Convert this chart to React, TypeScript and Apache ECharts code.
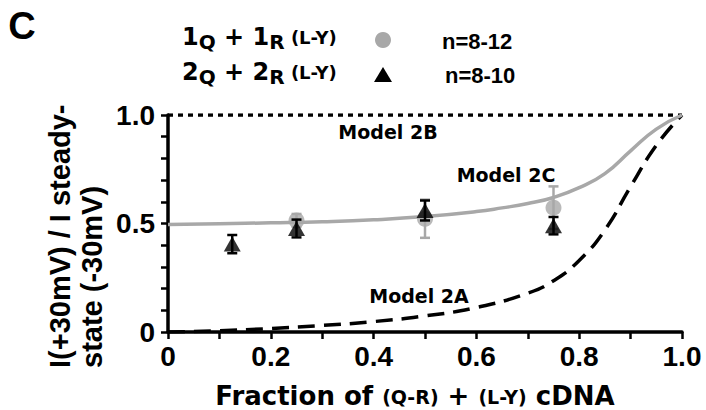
import React, { useEffect, useRef } from 'react';
import * as echarts from 'echarts';

const triX = [0.125, 0.25, 0.5, 0.75];
const triY = [0.405, 0.477, 0.56, 0.49];
const triErr = [0.042, 0.041, 0.046, 0.04];

const circX = [0.25, 0.5, 0.75];
const circY = [0.514, 0.522, 0.573];
const circErr = [0.03, 0.088, 0.098];

const model2AX = [0, 0.1, 0.2, 0.3, 0.4, 0.5, 0.6, 0.7, 0.75, 0.8, 0.85, 0.9, 0.95, 1.0];
const model2A = [0, 0.006, 0.016, 0.03, 0.048, 0.074, 0.113, 0.179, 0.236, 0.33, 0.47, 0.67, 0.86, 1.0];
const model2CX = [0, 0.1, 0.2, 0.3, 0.4, 0.5, 0.6, 0.65, 0.7, 0.75, 0.8, 0.85, 0.9, 0.95, 1.0];
const model2C = [0.495, 0.499, 0.503, 0.508, 0.517, 0.532, 0.555, 0.572, 0.592, 0.62, 0.665, 0.73, 0.835, 0.935, 1.0];
const model2BX = [0, 1];
const model2B = [1, 1];

const xTickLabels = ['0', '0.2', '0.4', '0.6', '0.8', '1.0'];
const yTickLabels = ['0', '0.5', '1.0'];

const GRAY = '#a8a8a8';
const F_TEXT = "'DejaVu Sans', sans-serif";
const F_TICK = "'Liberation Sans', Arial, sans-serif";

function errRender(color: string) {
  return (params: any, api: any) => {
    const x = api.value(0);
    const y = api.value(1);
    const e = api.value(2);
    const top = api.coord([x, y + e]);
    const bot = api.coord([x, y - e]);
    const hw = 5;
    const st = { stroke: color, lineWidth: 2.5 };
    return {
      type: 'group',
      children: [
        { type: 'line', shape: { x1: top[0], y1: top[1], x2: bot[0], y2: bot[1] }, style: st },
        { type: 'line', shape: { x1: top[0] - hw, y1: top[1], x2: top[0] + hw, y2: top[1] }, style: st },
        { type: 'line', shape: { x1: bot[0] - hw, y1: bot[1], x2: bot[0] + hw, y2: bot[1] }, style: st },
      ],
    };
  };
}

export default function App() {
  const ref = useRef<HTMLDivElement>(null);
  useEffect(() => {
    if (!ref.current) return;
    const chart = echarts.init(ref.current, null, { renderer: 'svg' });
    const richLegend = {
      m: { fontFamily: F_TEXT, fontWeight: 'bold', fontSize: 24, lineHeight: 30, fill: '#000' },
      s: { fontFamily: F_TEXT, fontWeight: 'bold', fontSize: 20, lineHeight: 30, padding: [9, 0, 0, 0], fill: '#000' },
      p: { fontFamily: F_TEXT, fontWeight: 'bold', fontSize: 18, lineHeight: 30, padding: [1, 0, 0, 0], fill: '#000' },
    };
    const richTitle = {
      m: { fontFamily: F_TEXT, fontWeight: 'bold', fontSize: 26, lineHeight: 32, fill: '#000' },
      p: { fontFamily: F_TEXT, fontWeight: 'bold', fontSize: 19, lineHeight: 32, padding: [2, 0, 0, 0], fill: '#000' },
    };
    const option: any = {
      animation: false,
      backgroundColor: '#fff',
      grid: { left: 168, right: 24, top: 115, bottom: 78 },
      xAxis: {
        type: 'value',
        min: 0,
        max: 1,
        interval: 0.1,
        axisLine: { lineStyle: { color: '#000', width: 3.5 } },
        axisTick: { length: 7, lineStyle: { color: '#000', width: 2.5 } },
        splitLine: { show: false },
        axisLabel: {
          margin: 10,
          fontFamily: F_TICK,
          fontWeight: 'bold',
          fontSize: 28,
          color: '#000',
          formatter: (v: number) => {
            const r = Math.round(v * 10);
            return r % 2 === 0 ? xTickLabels[r / 2] : '';
          },
        },
      },
      yAxis: {
        type: 'value',
        min: 0,
        max: 1,
        interval: 0.1,
        axisLine: { show: true, lineStyle: { color: '#000', width: 3.5 } },
        axisTick: { show: true, length: 7, lineStyle: { color: '#000', width: 2.5 } },
        splitLine: { show: false },
        axisLabel: {
          margin: 13,
          fontFamily: F_TICK,
          fontWeight: 'bold',
          fontSize: 28,
          color: '#000',
          formatter: (v: number) => {
            const r = Math.round(v * 10);
            return r % 5 === 0 ? yTickLabels[r / 5] : '';
          },
        },
      },
      series: [
        {
          type: 'line',
          data: model2BX.map((x, i) => [x, model2B[i]]),
          symbol: 'none',
          lineStyle: { color: '#000', width: 3.5, type: [5, 5] },
          z: 2,
        },
        {
          type: 'line',
          data: model2AX.map((x, i) => [x, model2A[i]]),
          symbol: 'none',
          smooth: 0.5,
          lineStyle: { color: '#000', width: 3.5, type: [17, 9] },
          z: 2,
        },
        {
          type: 'line',
          data: model2CX.map((x, i) => [x, model2C[i]]),
          symbol: 'none',
          smooth: 0.5,
          lineStyle: { color: GRAY, width: 3.5 },
          z: 2,
        },
        {
          type: 'custom',
          data: circX.map((x, i) => [x, circY[i], circErr[i]]),
          renderItem: errRender(GRAY),
          z: 3,
        },
        {
          type: 'scatter',
          data: circX.map((x, i) => [x, circY[i]]),
          symbol: 'circle',
          symbolSize: 16,
          itemStyle: { color: GRAY },
          z: 4,
        },
        {
          type: 'custom',
          data: triX.map((x, i) => [x, triY[i], triErr[i]]),
          renderItem: errRender('#000'),
          z: 5,
        },
        {
          type: 'scatter',
          data: triX.map((x, i) => [x, triY[i]]),
          symbol: 'triangle',
          symbolSize: [17, 15],
          itemStyle: { color: '#000' },
          z: 6,
        },
      ],
      graphic: [
        {
          type: 'text', x: 22, y: 26,
          style: { text: 'C', fontFamily: F_TICK, fontWeight: 'bold', fontSize: 38, fill: '#000', align: 'center', verticalAlign: 'middle' },
        },
        {
          type: 'text', x: 182, y: 37,
          style: { text: '{m|1}{s|Q}{m| + 1}{s|R}{p| (L-Y)}', rich: richLegend, align: 'left', verticalAlign: 'middle' },
        },
        {
          type: 'text', x: 182, y: 72,
          style: { text: '{m|2}{s|Q}{m| + 2}{s|R}{p| (L-Y)}', rich: richLegend, align: 'left', verticalAlign: 'middle' },
        },
        { type: 'circle', shape: { cx: 383, cy: 40, r: 8 }, style: { fill: GRAY } },
        { type: 'polygon', shape: { points: [[383, 67], [392, 82], [374, 82]] }, style: { fill: '#000' } },
        {
          type: 'text', x: 442, y: 41,
          style: { text: 'n=8-12', fontFamily: F_TICK, fontWeight: 'bold', fontSize: 22, fill: '#000', align: 'left', verticalAlign: 'middle' },
        },
        {
          type: 'text', x: 445, y: 75,
          style: { text: 'n=8-10', fontFamily: F_TICK, fontWeight: 'bold', fontSize: 22, fill: '#000', align: 'left', verticalAlign: 'middle' },
        },
        {
          type: 'text', x: 76, y: 368, rotation: Math.PI / 2,
          style: {
            text: 'I(+30mV) / I steady-\nstate (-30mV)',
            fontFamily: F_TICK, fontWeight: 'bold', fontSize: 29, lineHeight: 32,
            fill: '#000', align: 'left', verticalAlign: 'middle',
          },
        },
        {
          type: 'text', x: 415, y: 396,
          style: { text: '{m|Fraction of }{p|(Q-R)}{m| + }{p|(L-Y)}{m| cDNA}', rich: richTitle, align: 'center', verticalAlign: 'middle' },
        },
        {
          type: 'text', x: 388, y: 132,
          style: { text: 'Model 2B', fontFamily: F_TEXT, fontWeight: 'bold', fontSize: 19, fill: '#000', align: 'center', verticalAlign: 'middle' },
        },
        {
          type: 'text', x: 506, y: 175,
          style: { text: 'Model 2C', fontFamily: F_TEXT, fontWeight: 'bold', fontSize: 19, fill: '#000', align: 'center', verticalAlign: 'middle' },
        },
        {
          type: 'text', x: 419, y: 296,
          style: { text: 'Model 2A', fontFamily: F_TEXT, fontWeight: 'bold', fontSize: 19, fill: '#000', align: 'center', verticalAlign: 'middle' },
        },
      ],
    };
    chart.setOption(option);
    return () => chart.dispose();
  }, []);
  return <div ref={ref} style={{ position: 'fixed', left: 0, top: 0, width: 706, height: 410 }} />;
}
